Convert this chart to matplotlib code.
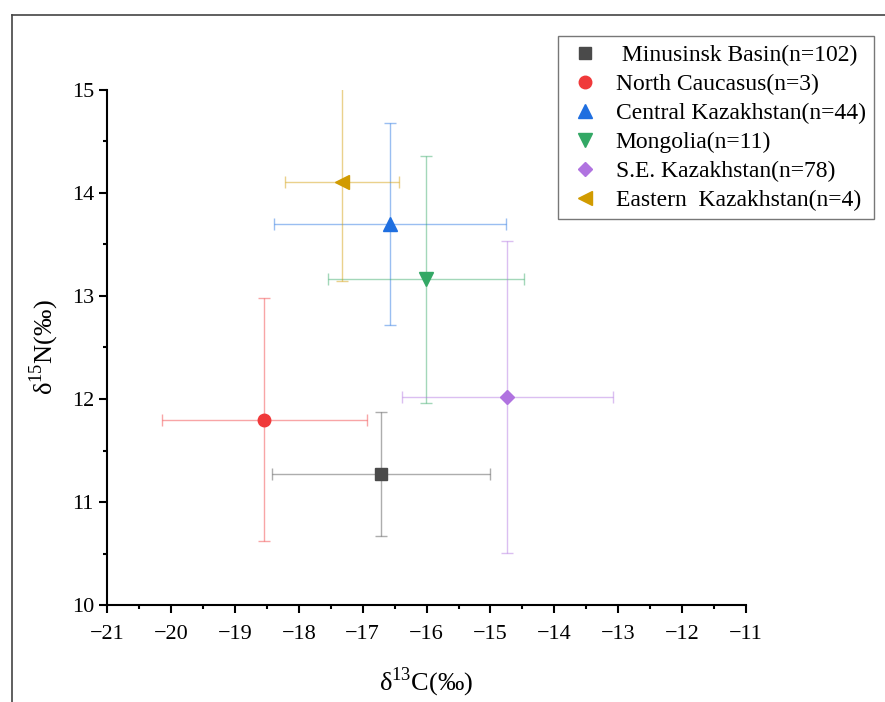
import matplotlib.pyplot as plt
from matplotlib.lines import Line2D

# Group means and standard deviations
groups = ["Minusinsk Basin(n=102)", "North Caucasus(n=3)", "Central Kazakhstan(n=44)",
          "Mongolia(n=11)", "S.E. Kazakhstan(n=78)", "Eastern  Kazakhstan(n=4)"]
d13c = [-16.71, -18.54, -16.57, -16.01, -14.74, -17.32]
d15n = [11.27, 11.80, 13.70, 13.16, 12.02, 14.11]
d13c_sd = [1.71, 1.60, 1.82, 1.54, 1.65, 0.89]
d15n_sd = [0.60, 1.18, 0.98, 1.20, 1.51, 0.96]

colors = ["#4a4a4a", "#f0393a", "#1f6fe0", "#33a865", "#b073e0", "#d19b00"]
markers = ["s", "o", "^", "v", "D", "<"]
msizes = [8, 9, 9.5, 9.5, 7.5, 9.5]

plt.rcParams['font.family'] = ['Liberation Serif', 'DejaVu Serif']
plt.rcParams['mathtext.fontset'] = 'custom'
plt.rcParams['mathtext.rm'] = 'Liberation Serif'

fig = plt.figure(figsize=(8.85, 7.02), dpi=100)
ax = fig.add_axes([0.121, 0.138, 0.722, 0.734])

for i in range(len(groups)):
    ax.errorbar(d13c[i], d15n[i], xerr=d13c_sd[i], yerr=d15n_sd[i],
                fmt='none', ecolor=colors[i], elinewidth=1.0, capsize=4,
                capthick=1.0, alpha=0.45, zorder=2)
for i in range(len(groups)):
    ax.plot(d13c[i], d15n[i], linestyle='none', marker=markers[i],
            markersize=msizes[i], color=colors[i], label=groups[i], zorder=3)

ax.set_xlim(-21, -11)
ax.set_ylim(10, 15)
ax.set_xticks(range(-21, -10))
ax.set_yticks(range(10, 16))
ax.set_xticks([x + 0.5 for x in range(-21, -11)], minor=True)
ax.set_yticks([y + 0.5 for y in range(10, 15)], minor=True)
ax.tick_params(which='major', direction='out', length=6, width=1.5, labelsize=16)
ax.tick_params(axis='x', which='major', pad=8)
ax.tick_params(which='minor', direction='out', length=3, width=1.5)
for s in ['top', 'right']:
    ax.spines[s].set_visible(False)
for s in ['left', 'bottom']:
    ax.spines[s].set_linewidth(1.5)

ax.set_xlabel(r"δ$^{\mathrm{13}}$C(‰)", fontsize=19, labelpad=16)
ax.set_ylabel(r"δ$^{\mathrm{15}}$N(‰)", fontsize=19, labelpad=8)

handles, labels = ax.get_legend_handles_labels()
labels[0] = " " + labels[0]
leg = ax.legend(handles, labels, loc='upper left', bbox_to_anchor=(0.6305, 0.9487),
                bbox_transform=fig.transFigure, fontsize=17, frameon=True,
                fancybox=False, edgecolor='#555555', labelspacing=0.32,
                handletextpad=0.5, handlelength=1.6, borderpad=0.35,
                handleheight=0.7, borderaxespad=0)
leg.get_frame().set_linewidth(1.0)

# outer frame of the figure (left and top edges visible)
fig.add_artist(Line2D([0.013, 0.013], [0.0, 0.979], transform=fig.transFigure,
                      color='#444444', linewidth=1.2))
fig.add_artist(Line2D([0.013, 1.0], [0.979, 0.979], transform=fig.transFigure,
                      color='#444444', linewidth=1.2))

fig.savefig("out.png", dpi=100)
